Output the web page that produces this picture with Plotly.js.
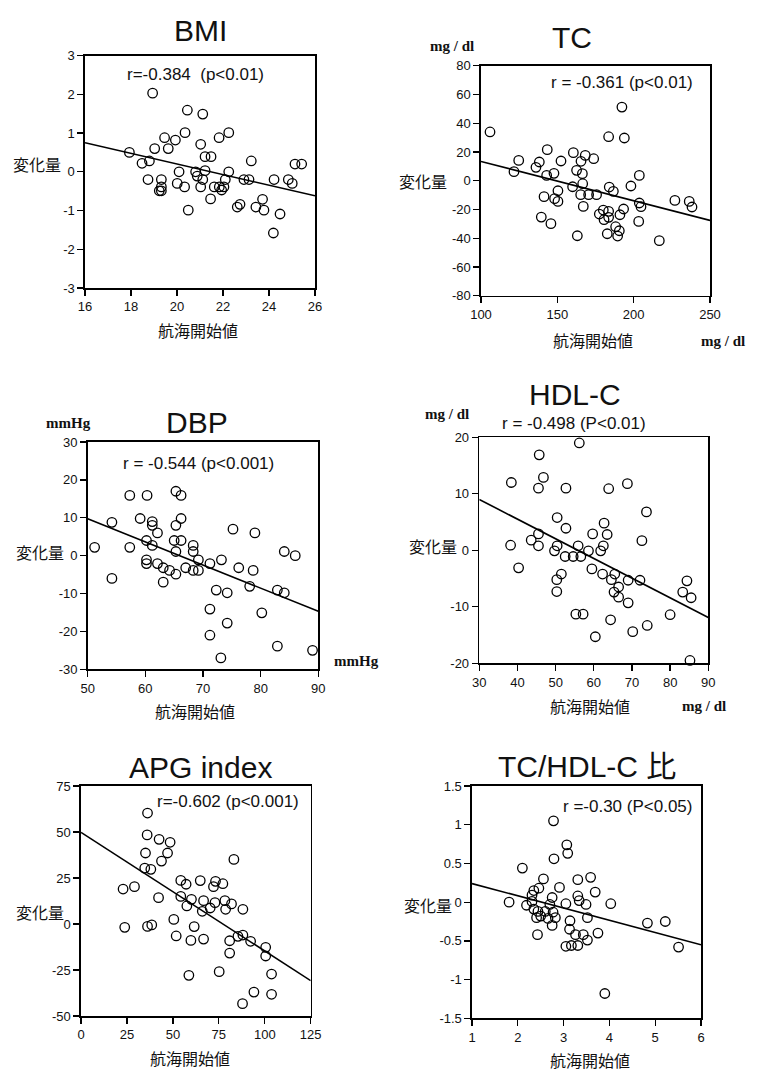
<!DOCTYPE html>
<html><head><meta charset="utf-8">
<script src="https://cdn.plot.ly/plotly-3.0.1.min.js"></script>
<style>html,body{margin:0;padding:0;background:#fff}</style>
</head><body><div id="chart" style="width:763px;height:1072px"></div>
<script>
// ---------- DATA ----------
const titles = ['BMI', 'TC', 'DBP', 'HDL-C', 'APG index', 'TC/HDL-C 比'];
const rTexts = ['r=-0.384  (p<0.01)', 'r = -0.361 (p<0.01)', 'r = -0.544 (p<0.001)',
                'r = -0.498 (P<0.01)', 'r=-0.602 (p<0.001)', 'r =-0.30 (P<0.05)'];
const yLabel = '変化量';
const xLabel = '航海開始値';

const bmiX = [18.94,20.45,21.12,20.35,22.25,19.46,19.93,21.83,19.03,19.62,21.03,17.93,21.22,21.48,18.48,18.80,23.23,25.13,25.42,20.09,20.81,21.22,20.88,22.25,18.74,19.32,21.12,22.10,22.91,23.13,24.22,24.84,25.01,19.32,19.23,19.32,20.01,20.33,21.03,21.62,21.84,22.04,21.94,21.46,20.49,22.62,22.74,23.43,23.72,23.78,24.48,24.19];
const bmiY = [2.03,1.59,1.49,1.01,1.01,0.88,0.82,0.88,0.60,0.60,0.71,0.50,0.39,0.39,0.22,0.28,0.28,0.20,0.20,0.00,0.00,0.03,-0.11,0.00,-0.20,-0.20,-0.20,-0.20,-0.20,-0.20,-0.20,-0.20,-0.30,-0.39,-0.49,-0.49,-0.30,-0.39,-0.39,-0.39,-0.39,-0.39,-0.47,-0.70,-0.99,-0.91,-0.84,-0.91,-0.71,-0.99,-1.09,-1.58];
const bmiFitX = [16, 26];
const bmiFitY = [0.75, -0.62];
const bmiXTicks = [16, 18, 20, 22, 24, 26];
const bmiYTicks = [-3, -2, -1, 0, 1, 2, 3];

const tcX = [105.9,192.3,183.6,193.9,143.4,124.7,138.2,160.5,168.3,173.8,152.4,165.5,121.6,136.0,143.0,147.8,162.6,166.4,203.7,160.0,166.6,184.0,186.7,198.2,150.4,141.3,148.2,150.4,165.3,170.5,175.7,167.0,177.5,180.1,180.6,183.6,183.6,191.0,193.4,203.7,204.8,203.3,139.5,145.8,188.2,190.6,182.7,189.5,163.1,216.8,227.0,236.4,238.2];
const tcY = [33.9,51.2,30.6,29.7,21.6,14.1,13.0,19.5,17.6,15.3,13.7,13.5,6.3,9.3,3.7,5.1,7.2,4.9,3.7,-4.2,-2.1,-4.4,-7.4,-3.7,-7.0,-11.1,-12.5,-14.4,-9.7,-9.7,-9.7,-17.9,-23.2,-20.4,-27.1,-21.3,-25.5,-23.7,-19.7,-15.5,-18.1,-28.3,-25.3,-29.9,-32.0,-34.8,-36.9,-38.5,-38.3,-41.7,-13.7,-14.4,-18.3];
const tcFitX = [100, 250];
const tcFitY = [13.4, -27.6];
const tcXTicks = [100, 150, 200, 250];
const tcYTicks = [-80, -60, -40, -20, 0, 20, 40, 60, 80];

const dbpX = [51.2,54.2,54.2,57.3,57.3,59.1,60.3,60.2,60.2,60.2,61.2,61.2,61.2,62.1,62.1,63.1,63.1,64.2,65.3,66.2,66.2,65.3,65.0,66.2,65.3,65.3,67.0,68.3,68.3,68.3,69.2,69.2,71.2,73.2,75.2,76.2,79.0,78.7,78.1,72.3,74.2,71.2,74.2,71.2,80.2,73.1,82.9,84.1,84.1,86.0,82.9,89.0];
const dbpY = [2.2,8.8,-6.0,15.9,2.2,9.8,15.9,4.0,-1.1,-2.1,9.0,8.0,2.7,6.0,-2.1,-3.2,-7.0,-3.9,17.0,15.9,9.8,8.0,4.0,4.0,1.1,-4.9,-3.2,2.7,1.1,-3.9,-1.1,-3.9,-2.1,-1.1,7.0,-3.2,6.0,-3.9,-8.1,-9.1,-9.8,-14.1,-17.8,-21.0,-15.1,-27.0,-9.1,-9.8,1.1,0.0,-23.9,-25.0];
const dbpFitX = [50, 90];
const dbpFitY = [9.75, -14.7];
const dbpXTicks = [50, 60, 70, 80, 90];
const dbpYTicks = [-30, -20, -10, 0, 10, 20, 30];

const hdlX = [38.4,38.2,40.3,45.7,46.8,45.5,45.5,43.6,45.5,56.2,52.7,50.4,52.7,49.7,50.4,52.5,54.6,56.6,55.9,58.6,59.7,61.8,62.5,62.7,63.5,63.9,68.8,73.8,72.6,51.5,50.3,50.3,59.5,62.3,64.6,65.5,65.3,66.5,66.5,69.0,72.1,69.0,55.3,57.2,64.4,60.4,70.2,74.0,80.0,83.3,84.4,85.5,85.2];
const hdlY = [12.0,0.9,-3.1,16.9,12.9,11.0,2.9,1.8,0.8,19.0,11.0,5.8,3.9,-0.1,0.8,-1.1,-1.1,-1.1,0.8,-0.1,2.9,-0.1,0.8,4.8,2.8,10.9,11.8,6.8,1.7,-4.2,-5.2,-7.3,-3.3,-4.2,-5.2,-4.2,-7.4,-6.5,-8.3,-5.3,-5.3,-9.3,-11.3,-11.3,-12.3,-15.3,-14.4,-13.3,-11.4,-7.4,-5.4,-8.4,-19.5];
const hdlFitX = [30, 90];
const hdlFitY = [9.0, -11.9];
const hdlXTicks = [30, 40, 50, 60, 70, 80, 90];
const hdlYTicks = [-20, -10, 0, 10, 20];

const apgX = [36.2,36.0,42.5,48.5,35.1,47.1,43.8,34.7,38.0,83.2,22.9,29.1,54.3,57.2,64.9,73.2,72.1,77.2,42.2,54.3,60.1,57.6,66.7,66.0,70.3,72.9,78.3,78.7,81.9,88.1,23.8,36.2,38.5,50.5,51.8,61.6,59.8,66.7,80.9,85.4,88.1,92.3,100.5,100.5,80.9,58.7,75.2,103.7,94.1,103.7,87.9];
const apgY = [60.3,48.4,46.0,44.4,38.6,38.6,34.2,30.4,29.7,35.1,19.0,20.3,23.7,21.6,23.6,23.2,20.3,21.9,14.3,15.0,13.4,9.8,12.7,6.9,8.7,11.6,12.7,8.0,10.9,8.0,-1.8,-1.3,-0.5,2.5,-6.5,-1.4,-8.9,-8.2,-9.1,-6.7,-6.0,-9.4,-12.7,-17.4,-15.8,-27.9,-25.9,-27.2,-37.0,-38.2,-43.3];
const apgFitX = [0, 125];
const apgFitY = [49.8, -30.8];
const apgXTicks = [0, 25, 50, 75, 100, 125];
const apgYTicks = [-50, -25, 0, 25, 50, 75];

const ratioX = [1.81,2.10,2.78,3.07,3.09,2.79,2.56,3.31,3.59,3.69,2.91,2.46,2.35,2.31,2.31,2.19,2.35,2.44,2.60,2.75,2.70,2.77,2.82,2.66,2.50,2.41,2.75,3.05,3.31,3.34,3.49,4.03,3.14,3.52,3.13,2.43,3.26,3.43,3.75,3.52,3.05,3.17,3.31,4.83,5.22,5.51,3.90];
const ratioY = [0.00,0.44,1.05,0.74,0.63,0.56,0.30,0.29,0.32,0.13,0.19,0.18,0.15,0.09,0.01,-0.04,-0.09,-0.12,-0.12,0.06,-0.03,-0.13,-0.20,-0.21,-0.18,-0.20,-0.30,-0.02,0.08,0.02,-0.03,-0.02,-0.24,-0.20,-0.35,-0.42,-0.42,-0.42,-0.40,-0.49,-0.57,-0.56,-0.56,-0.27,-0.25,-0.58,-1.18];
const ratioFitX = [1, 6];
const ratioFitY = [0.24, -0.55];
const ratioXTicks = [1, 2, 3, 4, 5, 6];
const ratioYTicks = [-1.5, -1, -0.5, 0, 0.5, 1, 1.5];

// ---------- LAYOUT ----------
const W = 763, H = 1072;
const fx = p => p / W;
const fy = p => 1 - p / H;

const panels = [
  {x: bmiX, y: bmiY, fx: bmiFitX, fy: bmiFitY, xt: bmiXTicks, yt: bmiYTicks,
   box: [85, 315, 55.6, 288], title: [200, 30], r: [195, 74], yl: [37, 164], xl: [198, 330]},
  {x: tcX, y: tcY, fx: tcFitX, fy: tcFitY, xt: tcXTicks, yt: tcYTicks,
   box: [481, 710, 65.7, 295.7], title: [572, 38], r: [622, 82], yl: [423, 181], xl: [593, 340]},
  {x: dbpX, y: dbpY, fx: dbpFitX, fy: dbpFitY, xt: dbpXTicks, yt: dbpYTicks,
   box: [87.7, 318.3, 442, 669.3], title: [197, 422], r: [199, 464], yl: [40, 552], xl: [195, 711]},
  {x: hdlX, y: hdlY, fx: hdlFitX, fy: hdlFitY, xt: hdlXTicks, yt: hdlYTicks,
   box: [479.3, 708.3, 437.3, 663.3], title: [575, 394], r: [574, 424], yl: [433, 546], xl: [590, 706]},
  {x: apgX, y: apgY, fx: apgFitX, fy: apgFitY, xt: apgXTicks, yt: apgYTicks,
   box: [81, 310.7, 786, 1016], title: [200, 767], r: [228, 801], yl: [40, 912], xl: [190, 1058]},
  {x: ratioX, y: ratioY, fx: ratioFitX, fy: ratioFitY, xt: ratioXTicks, yt: ratioYTicks,
   box: [472, 701, 786, 1018.3], title: [587, 766], r: [627, 806], yl: [428, 905], xl: [590, 1060]}
];

const numFont = {family: 'Liberation Sans, Arial, sans-serif', size: 13, color: '#111'};
const cjk = 'Noto Sans CJK JP, sans-serif';

const traces = [];
const layout = {
  width: W, height: H,
  margin: {l: 0, r: 0, t: 0, b: 0},
  paper_bgcolor: '#fff', plot_bgcolor: '#fff',
  showlegend: false,
  annotations: []
};

function axisCfg(domain, ticks, anchor) {
  return {
    domain: domain, range: [ticks[0], ticks[ticks.length - 1]],
    tickmode: 'array', tickvals: ticks, ticktext: ticks.map(String),
    ticks: 'outside', ticklen: 6, tickwidth: 1.3, tickcolor: '#000',
    showline: true, linewidth: 1.6, linecolor: '#000', mirror: true,
    showgrid: false, zeroline: false, tickfont: numFont, anchor: anchor, fixedrange: true
  };
}

function ann(pos, text, font, extra) {
  return Object.assign({xref: 'paper', yref: 'paper', x: fx(pos[0]), y: fy(pos[1]),
    xanchor: 'center', yanchor: 'middle', showarrow: false, text: text, font: font}, extra || {});
}

panels.forEach((p, i) => {
  const n = i === 0 ? '' : String(i + 1);
  const xa = 'x' + n, ya = 'y' + n;
  layout['xaxis' + n] = axisCfg([fx(p.box[0]), fx(p.box[1])], p.xt, ya);
  layout['yaxis' + n] = axisCfg([fy(p.box[3]), fy(p.box[2])], p.yt, xa);
  traces.push({
    type: 'scatter', mode: 'markers', x: p.x, y: p.y, xaxis: xa, yaxis: ya,
    marker: {symbol: 'circle-open', size: 9.5, color: '#000', line: {width: 1.3, color: '#000'}},
    cliponaxis: false, hoverinfo: 'skip'
  });
  traces.push({
    type: 'scatter', mode: 'lines', x: p.fx, y: p.fy, xaxis: xa, yaxis: ya,
    line: {color: '#000', width: 1.6}, hoverinfo: 'skip'
  });
  layout.annotations.push(ann(p.title, titles[i], {family: 'Liberation Sans, Arial, ' + cjk, size: 30, color: '#111'}));
  layout.annotations.push(ann(p.r, rTexts[i], {family: 'Liberation Sans, Arial, sans-serif', size: 17, color: '#111'}));
  layout.annotations.push(ann(p.yl, yLabel, {family: cjk, size: 16, color: '#111'}));
  layout.annotations.push(ann(p.xl, xLabel, {family: cjk, size: 16, color: '#111'}));
});

// unit labels
const unitFont = {family: 'Liberation Serif, Times New Roman, serif', size: 15, color: '#111'};
const units = [
  ['<b>mg / dl</b>', [452, 46]], ['<b>mg / dl</b>', [723, 341]],
  ['<b>mmHg</b>', [68, 423]], ['<b>mmHg</b>', [356, 661]],
  ['<b>mg / dl</b>', [447, 414]], ['<b>mg / dl</b>', [704, 706]]
];
units.forEach(u => layout.annotations.push(ann(u[1], u[0], unitFont)));

Plotly.newPlot('chart', traces, layout, {staticPlot: true, displayModeBar: false});
</script>
</body></html>
